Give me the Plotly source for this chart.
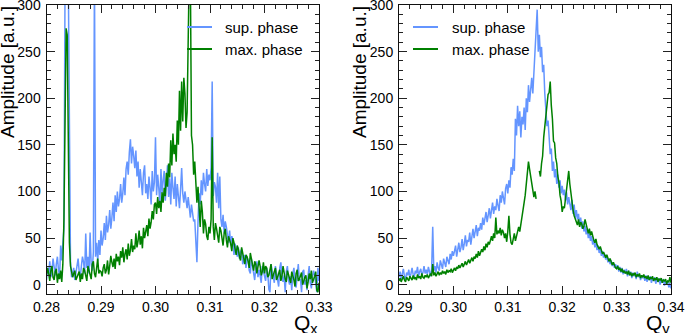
import numpy as np
import plotly.graph_objects as go

# ---------------- data ----------------
qx_start, qx_step, n_x = 0.28, 0.0002, 251
qy_start, qy_step, n_y = 0.29, 0.0002, 251
qx = np.round(qx_start + qx_step * np.arange(n_x), 5)
qy = np.round(qy_start + qy_step * np.arange(n_y), 5)

sup_phase_qx = [
    5, 18, 12, 25, 8, 14, 28, 20, 10, 22, 30, 16, 8, 42, 26, 45, 60, 320, 350, 340, 330, 100, 25, 8, 15,
    18, 5, 12, 22, 28, 14, 8, 20, 30, 24, 12, 55, 18, 30, 12, 56, 22, 15, 35, 340, 30, 45, 25, 48, 32,
    58, 42, 50, 66, 48, 74, 56, 64, 80, 60, 72, 88, 68, 96, 78, 100, 84, 92, 108, 88, 98, 115, 96, 124, 132,
    118, 142, 156, 130, 148, 138, 125, 144, 116, 132, 104, 124, 110, 96, 120, 128, 98, 108, 92, 116, 104, 86, 122, 100, 110,
    158, 96, 118, 104, 86, 124, 98, 112, 122, 90, 108, 128, 94, 114, 86, 120, 104, 92, 116, 84, 108, 96, 82, 102, 125,
    98, 88, 100, 92, 82, 94, 80, 72, 86, 76, 68, 70, 48, 24, 68, 98, 86, 112, 96, 120, 108, 100, 124, 106, 118,
    112, 125, 218, 95, 110, 105, 88, 120, 82, 116, 70, 62, 75, 55, 68, 62, 50, 45, 58, 42, 52, 48, 32, 44, 38,
    30, 40, 28, 35, 38, 22, 25, 32, 18, 30, 26, 15, 12, 28, 20, 10, 5, 18, 25, 8, 16, 10, 2, 20, 14,
    8, 4, 18, 12, -5, -8, 22, 15, 6, 2, 20, 12, 5, -2, 18, 24, 8, 3, 10, -8, 14, 20, 5, 0, 9,
    -6, 12, 18, 2, -3, 10, 22, 4, 6, -8, 14, 16, 0, 5, -6, 10, 20, 2, -4, 8, 15, 10, 0, -8, 18,
    4,
]

max_phase_qx = [
    10, 18, 12, 4, 15, 20, 8, 5, 14, 17, 2, 12, 6, 15, 3, 22, 70, 200, 275, 268, 150, 45, 20, 12, 8,
    12, 15, 5, 8, 10, 14, 3, 12, 6, 18, 15, 7, 4, 20, 16, 10, 6, 22, 25, 12, 8, 18, 28, 12, 15,
    14, 9, 18, 22, 12, 16, 26, 11, 20, 31, 24, 19, 28, 17, 33, 25, 30, 21, 36, 29, 40, 24, 33, 38, 27,
    44, 31, 37, 49, 35, 42, 38, 55, 40, 47, 58, 43, 52, 39, 61, 50, 56, 64, 52, 71, 60, 67, 79, 70, 86,
    88, 76, 94, 82, 90, 78, 99, 88, 104, 95, 120, 105, 130, 115, 155, 128, 162, 140, 150, 132, 176, 150, 208, 165, 218,
    175, 222, 205, 168, 185, 230, 340, 330, 160, 150, 118, 132, 100, 88, 105, 75, 62, 90, 78, 55, 70, 65, 52, 48, 62,
    55, 70, 158, 62, 48, 66, 60, 52, 45, 62, 58, 50, 42, 55, 60, 48, 40, 52, 48, 44, 36, 50, 45, 38, 32,
    42, 38, 30, 26, 40, 35, 28, 22, 32, 30, 25, 18, 34, 28, 20, 15, 25, 22, 12, 18, 26, 20, 10, 14, 24,
    12, 20, 18, 8, 10, 15, 22, 6, 9, 14, 18, 5, 8, 12, 16, 4, 9, 20, 12, 6, 3, 15, 11, 7, 2,
    14, 10, 5, -2, 12, 16, 4, 6, 9, 13, 0, 5, 8, 10, -4, 3, 12, 6, 15, 2, 5, 9, 14, -6, -8,
    2,
]

sup_phase_qy = [
    8, 14, 6, 11, 17, 9, 5, 13, 10, 16, 7, 12, 18, 11, 8, 15, 12, 19, 9, 14, 17, 10, 13, 20, 12,
    16, 11, 19, 14, 9, 17, 62, 15, 20, 13, 24, 18, 15, 26, 21, 17, 28, 23, 19, 30, 26, 22, 33, 27, 36,
    31, 36, 42, 30, 38, 45, 35, 40, 49, 37, 44, 53, 41, 48, 46, 56, 43, 52, 60, 50, 57, 64, 52, 61, 58,
    66, 59, 72, 64, 70, 78, 67, 75, 82, 71, 79, 88, 76, 84, 80, 92, 85, 79, 96, 88, 100, 91, 86, 103, 108,
    98, 112, 104, 126, 118, 135, 122, 178, 160, 192, 170, 186, 158, 180, 172, 190, 166, 200, 185, 214, 196, 208, 222, 205, 228,
    242, 262, 295, 250, 268, 244, 255, 228, 236, 205, 186, 170, 176, 150, 140, 146, 122, 132, 115, 124, 108, 118, 104, 112, 98,
    106, 96, 102, 90, 99, 86, 94, 88, 80, 91, 76, 86, 72, 80, 70, 76, 64, 72, 60, 68, 57, 63, 54, 60, 50,
    56, 47, 52, 43, 49, 40, 45, 37, 42, 34, 39, 31, 36, 29, 33, 27, 31, 24, 28, 22, 26, 20, 24, 18, 22,
    17, 21, 14, 19, 13, 18, 11, 16, 12, 17, 9, 15, 10, 14, 7, 13, 9, 12, 6, 14, 8, 11, 5, 10, 7,
    9, 4, 10, 3, 8, 5, 9, 2, 7, 4, 8, 1, 6, 3, 7, 0, 5, 2, 6, -1, 4, 1, 3, -3, 2,
    -4,
]

max_phase_qy = [
    4, 7, 3, 6, 9, 5, 3, 8, 6, 4, 9, 7, 5, 10, 6, 8, 5, 11, 7, 9, 6, 12, 8, 7, 10,
    8, 11, 7, 10, 12, 9, 22, 10, 13, 9, 12, 14, 10, 13, 11, 15, 12, 14, 11, 16, 13, 15, 14, 17, 13,
    16, 18, 15, 19, 17, 21, 18, 20, 23, 19, 22, 25, 21, 24, 27, 23, 26, 29, 25, 30, 28, 33, 29, 36, 31,
    34, 38, 35, 41, 37, 44, 40, 46, 43, 48, 52, 47, 55, 50, 72, 54, 58, 55, 61, 53, 59, 56, 50, 55, 46,
    57, 74, 54, 45, 43, 50, 55, 47, 53, 58, 62, 57, 64, 70, 78, 88, 96, 108, 118, 132, 124, 116, 108, 100, 94,
    100, 92, None, None, 122, 116, 130, 138, 158, 168, 184, 188, 204, 206, 218, 192, 178, 154, 152, 136, 130, 116, 110, 96, 90,
    78, 84, 82, 94, 100, 110, 122, 108, 96, 88, 80, 74, 70, 68, 64, 70, 62, 67, 65, 60, 63, 70, 64, 58, 55,
    60, 53, 57, 51, 48, 45, 49, 43, 40, 38, 41, 36, 33, 35, 31, 29, 32, 27, 25, 28, 23, 21, 24, 20, 18,
    17, 20, 16, 18, 14, 17, 13, 15, 12, 14, 11, 15, 10, 13, 9, 12, 10, 13, 8, 11, 9, 12, 7, 10, 8,
    11, 7, 9, 6, 10, 5, 8, 6, 9, 4, 7, 5, 8, 3, 6, 5, 7, 2, 5, 4, 6, 1, 4, 3, 8,
    2,
]

for _arr in (sup_phase_qx, max_phase_qx):
    assert len(_arr) == n_x, len(_arr)
for _arr in (sup_phase_qy, max_phase_qy):
    assert len(_arr) == n_y, len(_arr)

series_names = ["sup. phase", "max. phase"]
series_colors = ["#6495ff", "#008000"]
y_ticks = [0, 50, 100, 150, 200, 250, 300]
qx_ticks = [0.28, 0.29, 0.30, 0.31, 0.32, 0.33]
qy_ticks = [0.29, 0.30, 0.31, 0.32, 0.33, 0.34]

# ---------------- figure ----------------
W, H = 685, 333
FONT = "Liberation Sans, Arial, Helvetica, sans-serif"

fig = go.Figure()

fig.add_trace(go.Scatter(x=qx, y=sup_phase_qx, mode="lines", name=series_names[0],
                         line=dict(color=series_colors[0], width=1.5),
                         xaxis="x", yaxis="y"))
fig.add_trace(go.Scatter(x=qx, y=max_phase_qx, mode="lines", name=series_names[1],
                         line=dict(color=series_colors[1], width=1.5),
                         xaxis="x", yaxis="y"))
fig.add_trace(go.Scatter(x=qy, y=sup_phase_qy, mode="lines", name=series_names[0],
                         line=dict(color=series_colors[0], width=1.5), connectgaps=False,
                         xaxis="x2", yaxis="y2"))
fig.add_trace(go.Scatter(x=qy, y=max_phase_qy, mode="lines", name=series_names[1],
                         line=dict(color=series_colors[1], width=1.5), connectgaps=False,
                         xaxis="x2", yaxis="y2"))

ydom = [1 - 294 / H, 1 - 5 / H]


def xaxis_cfg(dom, rng, ticks, anchor):
    return dict(domain=dom, range=rng, anchor=anchor, tickvals=ticks,
                ticktext=[f"{t:.2f}" for t in ticks], automargin=False,
                ticks="inside", ticklen=8, tickwidth=1, tickcolor="#222",
                showline=True, linecolor="#111", linewidth=1, mirror="allticks",
                showgrid=False, zeroline=False, ticklabeloverflow="allow",
                minor=dict(ticks="inside", ticklen=4, dtick=0.002, tickcolor="#222", showgrid=False),
                tickfont=dict(family=FONT, size=14, color="#000"))


def yaxis_cfg(anchor):
    return dict(domain=ydom, range=[-10, 300], anchor=anchor, tickvals=y_ticks,
                automargin=False,
                ticks="inside", ticklen=8, tickwidth=1, tickcolor="#222",
                showline=True, linecolor="#111", linewidth=1, mirror="allticks",
                showgrid=False, zeroline=False, ticklabelstandoff=2, ticklabeloverflow="allow",
                minor=dict(ticks="inside", ticklen=4, dtick=10, tick0=0, tickcolor="#222", showgrid=False),
                tickfont=dict(family=FONT, size=14, color="#000"))


fig.update_layout(
    width=W, height=H,
    margin=dict(l=0, r=0, t=0, b=0, autoexpand=False),
    paper_bgcolor="white", plot_bgcolor="white",
    font=dict(family=FONT, size=14, color="#000"),
    xaxis=xaxis_cfg([46.5 / W, 319 / W], [0.28, 0.33], qx_ticks, "y"),
    yaxis=yaxis_cfg("x"),
    xaxis2=xaxis_cfg([399 / W, 671 / W], [0.29, 0.34], qy_ticks, "y2"),
    yaxis2=yaxis_cfg("x2"),
    showlegend=False,
)

# legends (key line + label), one per panel
legend_pos = [(187, 223), (413, 450)]   # key-line start x, label x (pixels)
legend_rows = [27, 49]                  # row centres (pixels from top)
for key_x, text_x in legend_pos:
    for name, color, row in zip(series_names, series_colors, legend_rows):
        fig.add_shape(type="line", xref="paper", yref="paper",
                      x0=key_x / W, x1=(key_x + 25) / W, y0=1 - row / H, y1=1 - row / H,
                      line=dict(color=color, width=2))
        fig.add_annotation(text=name, xref="paper", yref="paper", x=text_x / W, y=1 - row / H,
                           xanchor="left", yanchor="middle", showarrow=False,
                           font=dict(family=FONT, size=15, color="#000"))

annots = [
    dict(text="Amplitude [a.u.]", x=8 / W, y=1 - 4 / H, textangle=-90),
    dict(text="Amplitude [a.u.]", x=360 / W, y=1 - 4 / H, textangle=-90),
]
for a in annots:
    fig.add_annotation(xref="paper", yref="paper", xanchor="center", yanchor="top",
                       showarrow=False, font=dict(family=FONT, size=19, color="#000"), **a)

fig.add_annotation(text="Q<sub>x</sub>", xref="paper", yref="paper", x=320 / W, y=1 - 309 / H,
                   xanchor="right", yanchor="top", showarrow=False,
                   font=dict(family=FONT, size=21, color="#000"))
fig.add_annotation(text="Q<sub>y</sub>", xref="paper", yref="paper", x=672 / W, y=1 - 309 / H,
                   xanchor="right", yanchor="top", showarrow=False,
                   font=dict(family=FONT, size=21, color="#000"))

fig.write_html("out.html", config={"displayModeBar": False, "staticPlot": True},
               post_script="document.body.style.margin='0px';document.body.style.overflow='hidden';")
